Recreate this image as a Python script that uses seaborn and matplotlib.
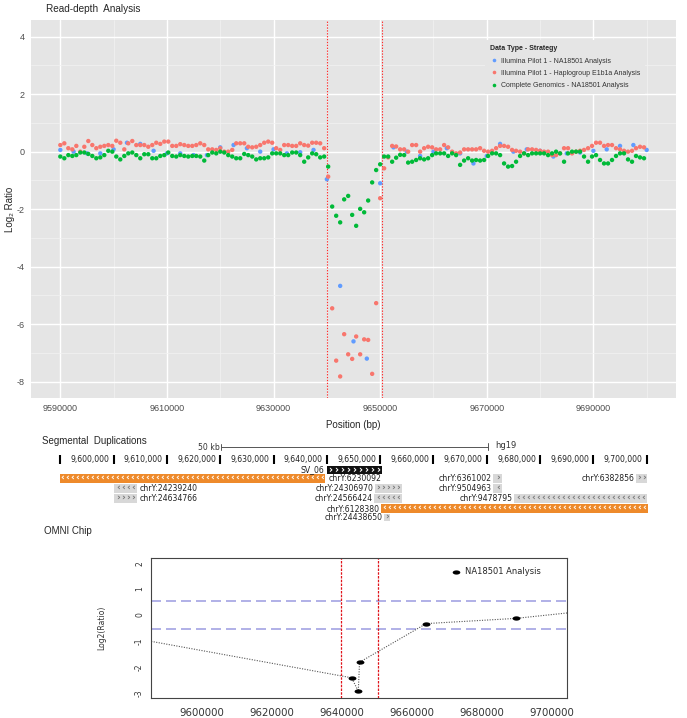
import numpy as np
import pandas as pd
import matplotlib
matplotlib.use("Agg")
import matplotlib.pyplot as plt
import seaborn as sns
from matplotlib.path import Path
from matplotlib.lines import Line2D
import matplotlib.patches as mpatches

# ---------------- data ----------------
series_labels = ["Illumina Pilot 1 - NA18501 Analysis",
                 "Illumina Pilot 1 - Haplogroup E1b1a Analysis",
                 "Complete Genomics - NA18501 Analysis"]
series_colors = ["#619CFF", "#F8766D", "#00BA38"]

# window positions (bp)
win_start = 9590000
win_step = 750          # Haplogroup / Complete Genomics windows
na_step = 2500          # NA18501 windows

haplo_ratio = [0.23, 0.29, 0.12, 0.08, 0.20, 0.00, 0.17, 0.37, 0.23, 0.12, 0.17, 0.20, 0.23, 0.20, 0.38,
               0.31, 0.08, 0.29, 0.37, 0.23, 0.23, 0.23, 0.17, 0.23, 0.31, 0.27, 0.35, 0.35, 0.20, 0.20,
               0.26, 0.23, 0.20, 0.20, 0.23, 0.29, 0.23, 0.08, 0.08, 0.06, 0.12, 0.00, 0.00, 0.06, 0.29,
               0.29, 0.29, 0.17, 0.15, 0.17, 0.23, 0.31, 0.35, 0.31, 0.12, 0.06, 0.23, 0.23, 0.20, 0.20,
               0.29,
               0.23, 0.21, 0.31, 0.31, 0.29, 0.12, -0.87, -5.45, -7.27, -7.82, -6.35, -7.05, -7.21, -6.43,
               -7.05, -6.53, -6.55, -7.73, -5.27, -1.62, -0.58, -0.20, 0.20, 0.18, 0.08,
               0.08, 0.00, 0.23, 0.23, 0.00, 0.12, 0.17, 0.15, 0.08, 0.08, 0.23, 0.15, 0.00, -0.06, -0.03,
               0.08, 0.08, 0.08, 0.08, 0.12, 0.03, 0.00, 0.03, 0.12, 0.20, 0.20, 0.17, 0.06, 0.03, 0.00,
               -0.06, 0.08, 0.08, 0.06, 0.03, 0.00, 0.00, -0.12, -0.12, -0.06, 0.12, 0.12, -0.06, 0.00, 0.03,
               0.06, 0.12, 0.20, 0.31, 0.31, 0.20, 0.23, 0.23, 0.12, 0.08, 0.03, 0.00, 0.03, 0.12, 0.17,
               0.15]

cg_ratio = [-0.17, -0.23, -0.12, -0.15, -0.12, -0.03, -0.03, -0.08, -0.15, -0.23, -0.20, -0.12, 0.03, 0.00,
            -0.17, -0.27, -0.15, -0.06, -0.03, -0.12, -0.23, -0.09, -0.09, -0.23, -0.23, -0.15, -0.12, -0.03,
            -0.15, -0.17, -0.12, -0.15, -0.17, -0.15, -0.15, -0.17, -0.31, -0.12, -0.03, -0.06, 0.00, -0.03,
            -0.12, -0.17, -0.23, -0.23, -0.08, -0.12, -0.17, -0.27, -0.23, -0.23, -0.20, -0.06, -0.06, -0.06,
            -0.12, -0.12, -0.03, -0.03, -0.12,
            -0.35, -0.20, -0.06, -0.09, -0.20, -0.17, -0.52, -1.91, -2.23, -2.46, -1.66, -1.54, -2.20, -2.58,
            -1.99, -2.11, -1.70, -1.07, -0.64, -0.44, -0.17, -0.17, -0.35, -0.21, -0.11,
            -0.12, -0.38, -0.35, -0.29, -0.23, -0.27, -0.23, -0.12, -0.06, -0.06, -0.06, -0.15, -0.06, -0.12,
            -0.46, -0.31, -0.23, -0.31, -0.29, -0.31, -0.29, -0.15, -0.06, -0.06, -0.12, -0.41, -0.52, -0.50,
            -0.35, -0.15, -0.06, -0.12, -0.06, -0.06, -0.06, -0.06, -0.12, -0.06, 0.00, -0.06, -0.35, -0.06,
            0.00, 0.00, 0.00, -0.17, -0.35, -0.17, -0.12, -0.29, -0.41, -0.41, -0.29, -0.15, -0.06, -0.06,
            -0.27, -0.35, -0.15, -0.20, -0.23]

na_ratio = [0.06, 0.00, -0.06, -0.06, 0.08, 0.31, 0.27, 0.03, -0.06, -0.06, -0.12, -0.12, 0.15, 0.23, 0.12,
            0.00, 0.08, -0.06, -0.02, 0.06,
            -0.96, -4.67, -6.60, -7.20, -1.10, 0.15, 0.00, -0.15, 0.00,
            0.12, -0.06, -0.41, -0.15, 0.27, 0.00, 0.08, 0.03, -0.17, -0.06, -0.03, 0.03, 0.08, 0.20, 0.23,
            0.06]

sv_bounds = [9640000, 9650300]
x_ticks = [9590000, 9610000, 9630000, 9650000, 9670000, 9690000]
y_ticks = [-8, -6, -4, -2, 0, 2, 4]

# segmental duplications track
ruler_pos = [9590000, 9600000, 9610000, 9620000, 9630000, 9640000, 9650000, 9660000,
             9670000, 9680000, 9690000, 9700000]
ruler_labels = ["", "9,600,000", "9,610,000", "9,620,000", "9,630,000", "9,640,000", "9,650,000",
                "9,660,000", "9,670,000", "9,680,000", "9,690,000", "9,700,000"]
scale_start = 9620150
scale_len = 50000
sv_name = "SV_06"
seg_labels = ["chrY:6230092", "chrY:24239240", "chrY:24634766", "chrY:24306970", "chrY:24566424",
              "chrY:6361002", "chrY:9504963", "chrY:6382856", "chrY:9478795", "chrY:6128380",
              "chrY:24438650"]
seg_start = [9589900, 9600100, 9600100, 9649000, 9648900, 9671200, 9671200, 9698000, 9675100,
             9650200, 9650700]
seg_end = [9639700, 9604400, 9604400, 9654100, 9654100, 9672900, 9672900, 9700000, 9700000,
           9700200, 9651800]
seg_strand = ["-", "-", "+", "+", "-", "+", "-", "+", "-", "-", "+"]
seg_high = [True, False, False, False, False, False, False, False, False, True, False]
seg_row = [0, 1, 2, 1, 2, 0, 1, 0, 2, 3, 4]
seg_label_right = [True, True, True, False, False, False, False, False, False, False, False]

# OMNI chip
omni_pos = [9572000, 9642900, 9644800, 9645150, 9664200, 9689700, 9715000]
omni_ratio = [-0.68, -2.42, -2.94, -1.82, -0.33, -0.13, 0.23]
omni_thresh = [0.55, -0.55]
omni_xticks = [9600000, 9620000, 9640000, 9660000, 9680000, 9700000]
omni_yticks = [-3, -2, -1, 0, 1, 2]

# ---------------- figure ----------------
W, H = 687, 718
sns.set_style("darkgrid", {"axes.facecolor": "#E5E5E5", "grid.color": "white"})
plt.rcParams["font.family"] = ["Liberation Sans", "DejaVu Sans"]
plt.rcParams["axes.unicode_minus"] = False

fig = plt.figure(figsize=(W / 100, H / 100), dpi=100)
fig.patch.set_facecolor("white")


def rect(l, t, r, b):
    return [l / W, 1 - b / H, (r - l) / W, (b - t) / H]


def fx(px):
    return px / W


def fy(py):
    return 1 - py / H


# ---------- top: read-depth ----------
xlim_top = (9584500, 9705500)
ax1 = fig.add_axes(rect(31, 20, 676, 398))
pos_win = win_start + win_step * np.arange(len(haplo_ratio))
pos_na = win_start + na_step * np.arange(len(na_ratio))
df = pd.concat([
    pd.DataFrame({"pos": pos_na, "ratio": na_ratio, "series": series_labels[0]}),
    pd.DataFrame({"pos": pos_win, "ratio": haplo_ratio, "series": series_labels[1]}),
    pd.DataFrame({"pos": pos_win, "ratio": cg_ratio, "series": series_labels[2]}),
], ignore_index=True)

sns.scatterplot(data=df, x="pos", y="ratio", hue="series", hue_order=series_labels,
                palette=series_colors, s=10, linewidth=0, ax=ax1, legend=False, zorder=3)
ax1.set_xlim(*xlim_top)
ax1.set_ylim(-8.57, 4.58)
ax1.set_xticks(x_ticks)
ax1.set_xticklabels([str(v) for v in x_ticks])
ax1.set_yticks(y_ticks)
ax1.set_yticklabels([str(v) for v in y_ticks])
ax1.set_xticks([v + 10000 for v in x_ticks], minor=True)
ax1.set_yticks([v + 1 for v in y_ticks[:-1]], minor=True)
ax1.grid(which="major", color="white", lw=1.0)
ax1.grid(which="minor", color="#F2F2F2", lw=0.5)
for sp in ax1.spines.values():
    sp.set_visible(False)
ax1.tick_params(which="major", length=2.5, width=0.6, color="#7F7F7F", labelsize=6.5,
                labelcolor="#4D4D4D", pad=2)
ax1.tick_params(which="minor", length=0)
ax1.set_xlabel("Position (bp)", fontsize=7, labelpad=5)
ax1.set_ylabel("Log\u2082 Ratio", fontsize=7, labelpad=1)
for xv in sv_bounds:
    ax1.axvline(xv, color="#FF2A2A", lw=0.8, ls=(0, (1.2, 1.4)), zorder=2)

handles = [Line2D([], [], marker="o", ls="", color=c, markersize=2.6, markeredgewidth=0)
           for c in series_colors]
leg = ax1.legend(handles, series_labels, title="Data Type - Strategy", loc="upper left",
                 bbox_to_anchor=(fx(482), fy(37)), bbox_transform=fig.transFigure,
                 fontsize=5, title_fontproperties={"weight": "bold", "size": 5},
                 frameon=True, facecolor="#E5E5E5", edgecolor="none", framealpha=1,
                 alignment="left", handletextpad=0.5, labelspacing=0.75, borderpad=0.7,
                 handlelength=1.0, fancybox=False)
for t in leg.get_texts():
    t.set_color("#333333")

fig.text(fx(46), fy(9), "Read-depth  Analysis", fontsize=7.2, ha="left", va="center")

# ---------- middle: segmental duplications ----------
bp_per_px = (xlim_top[1] - xlim_top[0]) / 645.0
ax2 = fig.add_axes(rect(31, 430, 676, 525))
ax2.set_facecolor("white")
ax2.set_xlim(*xlim_top)
ax2.set_ylim(525, 430)
ax2.axis("off")

fig.text(fx(42), fy(441), "Segmental  Duplications", fontsize=7, ha="left", va="center")
tfont = "DejaVu Sans"
bfs = 5.6
# scale bar
sb0, sb1 = scale_start, scale_start + scale_len
ax2.plot([sb0, sb1], [446.7, 446.7], color="#555555", lw=0.7)
ax2.plot([sb0, sb0], [443.5, 450], color="#555555", lw=0.7)
ax2.plot([sb1, sb1], [442.5, 450], color="#555555", lw=0.7)
ax2.text(sb0 - 1 * bp_per_px, 448, "50 kb", fontsize=bfs, ha="right", va="center", family=tfont,
         color="#333333")
ax2.text(sb1 + 8 * bp_per_px, 446, "hg19", fontsize=bfs + 0.4, ha="left", va="center", family=tfont,
         color="#333333")
# ruler
for p, lab in zip(ruler_pos, ruler_labels):
    ax2.plot([p, p], [455, 463.5], color="black", lw=1.5, solid_capstyle="butt")
    if lab:
        ax2.text(p - 4 * bp_per_px, 459.5, lab, fontsize=bfs, ha="right", va="center", family=tfont,
                 color="#222222")


def chevrons(x0, x1, yc, strand, color, step_px=5.0, fs=6.5):
    glyph = "\u203a" if strand == "+" else "\u2039"
    n = int((x1 - x0) / (step_px * bp_per_px))
    if n < 1:
        return
    start = x0 + ((x1 - x0) - (n - 1) * step_px * bp_per_px) / 2
    for i in range(n):
        ax2.text(start + i * step_px * bp_per_px, yc, glyph, fontsize=fs, color=color,
                 ha="center", va="center", family="DejaVu Sans", fontweight="bold")


# SV bar
ax2.add_patch(mpatches.Rectangle((sv_bounds[0], 466), sv_bounds[1] - sv_bounds[0], 7.5,
                                 facecolor="#111111", edgecolor="none"))
chevrons(sv_bounds[0], sv_bounds[1], 469.4, "+", "white", step_px=6.0, fs=7)
ax2.text(sv_bounds[0] - 3 * bp_per_px, 469.8, sv_name, fontsize=bfs, ha="right", va="center",
         family=tfont, color="#222222")

row_top = [474, 484, 494, 504, 514]
row_h = [8.5, 8.5, 8.5, 9.0, 7.0]
for lab, s0, s1, st, hi, rw, rside in zip(seg_labels, seg_start, seg_end, seg_strand, seg_high,
                                           seg_row, seg_label_right):
    top = row_top[rw]
    h = row_h[rw]
    fc = "#EE8A2B" if hi else "#D8D8D8"
    cc = "white" if hi else "#7A7A7A"
    ax2.add_patch(mpatches.Rectangle((s0, top), s1 - s0, h, facecolor=fc, edgecolor="none"))
    chevrons(s0, s1, top + h / 2 - 0.5, st, cc)
    if rside:
        ax2.text(s1 + 3 * bp_per_px, top + h / 2 + 0.5, lab, fontsize=bfs, ha="left", va="center",
                 family=tfont, color="#222222")
    else:
        ax2.text(s0 - 1.5 * bp_per_px, top + h / 2 + 0.5, lab, fontsize=bfs, ha="right",
                 va="center", family=tfont, color="#222222")

# ---------- bottom: OMNI chip ----------
fig.text(fx(44), fy(531), "OMNI Chip", fontsize=7, ha="left", va="center")
ax3 = fig.add_axes(rect(151, 558, 567, 698))
ax3.set_facecolor("white")
ax3.grid(False)
for sp in ax3.spines.values():
    sp.set_visible(True)
    sp.set_color("#444444")
    sp.set_linewidth(0.8)

for yv in omni_thresh:
    ax3.axhline(yv, color="#A3A3E3", lw=1.2, ls=(0, (6, 3)), zorder=1)
for xv in sv_bounds:
    ax3.axvline(xv, color="#E0141B", lw=0.9, ls=(0, (2, 1)), zorder=1)

sns.lineplot(x=omni_pos, y=omni_ratio, ax=ax3, color="#555555", lw=0.8,
             linestyle=(0, (1, 1.3)), zorder=2)
t = np.linspace(0, 2 * np.pi, 40)
ell = Path(np.column_stack([np.cos(t), 0.55 * np.sin(t)]))
sns.scatterplot(x=omni_pos, y=omni_ratio, ax=ax3, marker=ell, s=32, color="black",
                linewidth=0, zorder=3)
ax3.set_xlim(9585600, 9704400)
ax3.set_ylim(-3.2, 2.2)
ax3.set_xticks(omni_xticks)
ax3.set_xticklabels([str(v) for v in omni_xticks], family="DejaVu Sans", fontsize=7.3)
ax3.set_yticks(omni_yticks)
ax3.set_yticklabels([str(v) for v in omni_yticks], family="DejaVu Sans", fontsize=5.5,
                    rotation=90, va="center")
ax3.tick_params(length=3, width=0.7, color="#444444", pad=2, labelcolor="#333333")
ax3.tick_params(axis="x", pad=4)
ax3.set_xlabel("")
ax3.set_ylabel("")
fig.text(fx(102), fy(628), "Log2(Ratio)", rotation=90, fontsize=5.5, ha="center", va="center",
         family="DejaVu Sans", color="#333333")
oh = [Line2D([], [], marker=ell, ls="", color="black", markersize=5.5, markeredgewidth=0)]
ax3.legend(oh, ["NA18501 Analysis"], loc="center left", bbox_to_anchor=(fx(448), fy(572)),
           bbox_transform=fig.transFigure, frameon=False, prop={"family": "DejaVu Sans", "size": 6},
           handlelength=1.0, handletextpad=0.5, borderpad=0)

fig.savefig("out.png", dpi=100)
